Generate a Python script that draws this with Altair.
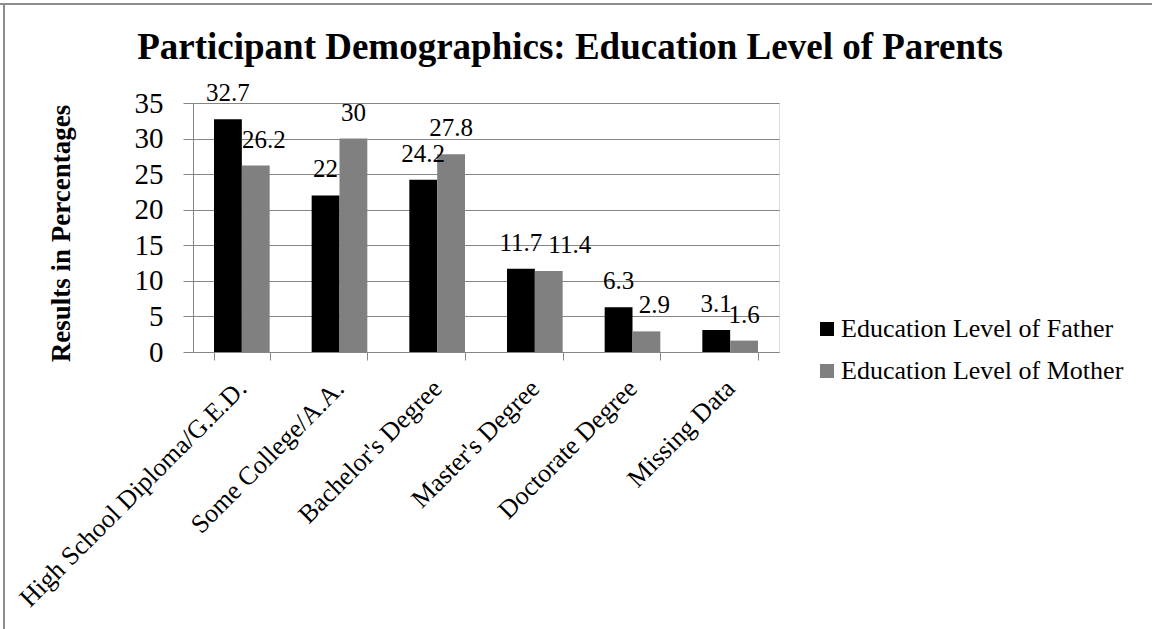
import altair as alt
import pandas as pd

# Parent education levels reported by participants (percent)
categories = [
    "High School Diploma/G.E.D.",
    "Some College/A.A.",
    "Bachelor's Degree",
    "Master's Degree",
    "Doctorate Degree",
    "Missing Data",
]
series = ["Education Level of Father", "Education Level of Mother"]
father = [32.7, 22, 24.2, 11.7, 6.3, 3.1]
mother = [26.2, 30, 27.8, 11.4, 2.9, 1.6]
y_ticks = [0, 5, 10, 15, 20, 25, 30, 35]

rows = []
for cat, f, m in zip(categories, father, mother):
    rows.append({"category": cat, "series": series[0], "value": f})
    rows.append({"category": cat, "series": series[1], "value": m})
df = pd.DataFrame(rows)

FONT = "Liberation Serif"
GRAY = "#868686"

x_enc = alt.X(
    "category:N",
    sort=categories,
    scale=alt.Scale(paddingInner=0.43, paddingOuter=0.215),
    axis=alt.Axis(
        title=None,
        labelAngle=-45,
        labelAlign="right",
        labelBaseline="middle",
        labelFont=FONT,
        labelFontSize=26,
        labelColor="black",
        labelPadding=24,
        labelLimit=600,
        labelOverlap=False,
        tickBand="extent",
        tickSize=8,
        tickColor=GRAY,
        domainColor=GRAY,
        grid=False,
    ),
)
xoff_enc = alt.XOffset("series:N", sort=series, scale=alt.Scale(paddingInner=0, paddingOuter=0))
y_enc = alt.Y(
    "value:Q",
    scale=alt.Scale(domain=[0, 35], nice=False),
    axis=alt.Axis(
        values=y_ticks,
        title="Results in Percentages",
        titleFont=FONT,
        titleFontSize=27,
        titleFontWeight="bold",
        titleColor="black",
        titleAngle=270,
        titleBaseline="alphabetic",
        titleAlign="center",
        titleX=-124,
        titleY=130,
        labelFont=FONT,
        labelFontSize=29,
        labelColor="black",
        labelPadding=20,
        labelOverlap=False,
        tickSize=10,
        tickColor=GRAY,
        domainColor=GRAY,
        gridColor=GRAY,
        gridOpacity=1,
    ),
)
color_enc = alt.Color(
    "series:N",
    scale=alt.Scale(domain=series, range=["#000000", "#808080"]),
    legend=alt.Legend(
        title=None,
        orient="none",
        legendX=621,
        legendY=213,
        symbolType="square",
        symbolSize=196,
        symbolStrokeWidth=0,
        labelFont=FONT,
        labelFontSize=26,
        labelColor="black",
        labelOffset=1,
        labelLimit=400,
        rowPadding=16,
        padding=0,
    ),
)

bars = alt.Chart(df).mark_bar().encode(x=x_enc, xOffset=xoff_enc, y=y_enc, color=color_enc)


def value_labels(shift=0, keep=None):
    """Value labels above the bars; `shift` nudges crowded labels sideways."""
    base = alt.Chart(df)
    if keep is not None:
        base = base.transform_filter(keep)
    return base.mark_text(
        baseline="alphabetic", dy=-18, dx=shift, font=FONT, fontSize=25, color="black"
    ).encode(
        x=x_enc,
        xOffset=xoff_enc,
        y=y_enc,
        text=alt.Text("value:Q", format="~g"),
    )


is_mother = alt.datum.series == series[1]
crowd_small = alt.FieldOneOfPredicate(field="category", oneOf=[categories[0], categories[4]])
crowd_wide = alt.FieldEqualPredicate(field="category", equal=categories[3])
mother_only = alt.FieldEqualPredicate(field="series", equal=series[1])

labels_plain = value_labels(
    keep=~(is_mother & (alt.datum.category == categories[0]))
    & ~(is_mother & (alt.datum.category == categories[3]))
    & ~(is_mother & (alt.datum.category == categories[4]))
)
labels_small = value_labels(shift=8, keep=alt.LogicalAndPredicate(**{"and": [crowd_small, mother_only]}))
labels_wide = value_labels(shift=21, keep=alt.LogicalAndPredicate(**{"and": [crowd_wide, mother_only]}))

# Frame lines along the top and left edge of the figure
frame_df = pd.DataFrame({"k": [0]})
top_edge = alt.Chart(frame_df).mark_rule(color="#8c8c8c", strokeWidth=2).encode(
    x=alt.value(-193), x2=alt.value(960), y=alt.value(-99)
)
left_edge = alt.Chart(frame_df).mark_rule(color="#8c8c8c", strokeWidth=2).encode(
    x=alt.value(-189), y=alt.value(-100), y2=alt.value(530)
)

chart = (
    alt.layer(bars, labels_plain, labels_small, labels_wide, top_edge, left_edge)
    .properties(
        width=586,
        height=249,
        autosize=alt.AutoSizeParams(type="none"),
        padding={"left": 193, "top": 103, "right": 373, "bottom": 277},
        title=alt.TitleParams(
            "Participant Demographics: Education Level of Parents",
            font=FONT,
            fontSize=37,
            fontWeight="bold",
            color="black",
            anchor="middle",
            baseline="alphabetic",
            dx=84,
            dy=114,
            offset=20,
        ),
    )
    .configure_view(stroke=None)
    .configure(background="white")
)

chart.save("out.html", embed_options={"renderer": "svg", "actions": False})
